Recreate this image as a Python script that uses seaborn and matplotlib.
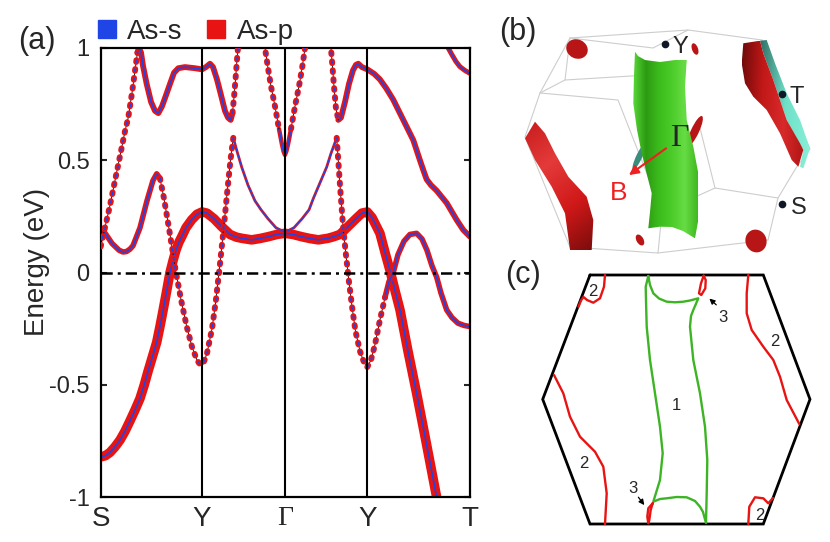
import numpy as np
import matplotlib
matplotlib.use('Agg')
import matplotlib.pyplot as plt
import seaborn as sns
from matplotlib.patches import Polygon, Patch, Ellipse
from matplotlib.colors import LinearSegmentedColormap

sns.set_theme(style='white')
plt.rcParams['font.family'] = ['Liberation Sans', 'DejaVu Sans']

RED = '#e81414'
BLUE = '#1f45e6'

# ---------------- panel (a) data: k-path and bands ----------------
k_ticks = [0.0, 1.0, 1.819, 2.632, 3.646]
k_labels = ['S', 'Y', 'Γ', 'Y', 'T']
e_ticks = [1.0, 0.5, 0.0, -0.5, -1.0]
e_labels = ['1', '0.5', '0', '-0.5', '-1']

# heavy As-p band
fat_k = [0, 0.046, 0.092, 0.14, 0.191, 0.24, 0.289, 0.34, 0.388, 0.43, 0.467, 0.51, 0.553, 0.585, 0.615,
         0.65, 0.684, 0.715, 0.743, 0.772, 0.800, 0.842, 0.898, 0.951, 1.0,
         1.049, 1.119, 1.194, 1.276, 1.340, 1.392, 1.490, 1.572, 1.654, 1.740, 1.819, 1.898, 1.984, 2.066,
         2.148, 2.244, 2.300, 2.362, 2.441, 2.520, 2.579, 2.632, 2.679, 2.718, 2.757, 2.807, 2.856, 2.906,
         2.955, 3.034, 3.119, 3.211, 3.317, 3.330]
fat_e = [-0.82, -0.815, -0.80, -0.776, -0.745, -0.706, -0.66, -0.61, -0.56, -0.50, -0.44, -0.375, -0.31,
         -0.24, -0.17, -0.085, 0.0, 0.055, 0.10, 0.135, 0.16, 0.20, 0.235, 0.26, 0.27,
         0.265, 0.24, 0.205, 0.17, 0.158, 0.153, 0.146, 0.152, 0.16, 0.17, 0.175, 0.17, 0.16, 0.152,
         0.146, 0.153, 0.16, 0.17, 0.205, 0.24, 0.265, 0.27, 0.245, 0.21, 0.175, 0.09, 0.01, -0.08,
         -0.166, -0.35, -0.537, -0.75, -1.0, -1.03]

# band starting at S (0.2 eV)
b1_k = [0, 0.052, 0.112, 0.181, 0.220, 0.255, 0.290, 0.319, 0.388, 0.457, 0.516, 0.553, 0.585]
b1_e = [0.20, 0.17, 0.13, 0.10, 0.092, 0.094, 0.105, 0.12, 0.20, 0.32, 0.41, 0.44, 0.42]
b1d_k = [0.585, 0.625, 0.684, 0.743, 0.793, 0.849, 0.901, 0.951, 1.0]
b1d_e = [0.42, 0.33, 0.17, 0.0, -0.12, -0.24, -0.33, -0.39, -0.42]

# steep band from S up to 1 eV, then the upper band
b2d_k = [0, 0.042, 0.092, 0.141, 0.191, 0.240, 0.272, 0.309, 0.339, 0.363]
b2d_e = [0.116, 0.20, 0.30, 0.41, 0.52, 0.63, 0.69, 0.80, 0.90, 0.98]
b2_k = [0.363, 0.378, 0.398, 0.418, 0.454, 0.497, 0.536, 0.569, 0.605, 0.645, 0.684, 0.724, 0.766, 0.832,
        0.931, 1.0, 1.039, 1.079, 1.109, 1.148, 1.188, 1.227, 1.257, 1.283, 1.301]
b2_e = [0.98, 1.0, 0.98, 0.92, 0.84, 0.76, 0.72, 0.71, 0.74, 0.79, 0.84, 0.89, 0.91, 0.915,
        0.91, 0.905, 0.915, 0.93, 0.915, 0.86, 0.79, 0.72, 0.69, 0.68, 0.71]
b2e_k = [1.301, 1.316, 1.331, 1.346, 1.355, 1.359]
b2e_e = [0.71, 0.78, 0.86, 0.95, 1.0, 1.02]

# parabola at Gamma
g_l_k = [1.617, 1.622, 1.652, 1.681, 1.721, 1.760]
g_l_e = [1.02, 1.0, 0.91, 0.83, 0.74, 0.64]
g_m_k = [1.760, 1.790, 1.805, 1.819, 1.833, 1.849, 1.879]
g_m_e = [0.64, 0.57, 0.54, 0.524, 0.54, 0.57, 0.64]
g_r_k = [1.879, 1.918, 1.958, 1.988, 2.017, 2.022]
g_r_e = [0.64, 0.74, 0.83, 0.91, 1.0, 1.02]

# upper band on the Gamma-Y-T side
b3d_k = [2.268, 2.273, 2.286, 2.303, 2.323, 2.346]
b3d_e = [1.02, 1.0, 0.93, 0.83, 0.73, 0.68]
b3_k = [2.346, 2.372, 2.412, 2.451, 2.490, 2.520, 2.543, 2.579, 2.632, 2.700, 2.757, 2.820, 2.888, 2.987,
        3.086, 3.152, 3.190, 3.218, 3.260, 3.317, 3.416, 3.514, 3.580, 3.646]
b3_e = [0.68, 0.69, 0.76, 0.84, 0.90, 0.925, 0.93, 0.915, 0.905, 0.885, 0.86, 0.82, 0.77, 0.68,
        0.59, 0.50, 0.45, 0.415, 0.39, 0.365, 0.31, 0.235, 0.19, 0.16]

# top right corner band
b4_k = [3.429, 3.431, 3.468, 3.507, 3.546, 3.596, 3.646]
b4_e = [1.02, 1.0, 0.97, 0.94, 0.917, 0.90, 0.887]

# bands from Gamma (0.18 eV) to the 0.6 eV peaks, then down to Y
p_l_k = [1.819, 1.730, 1.652, 1.583, 1.523, 1.454, 1.392, 1.346, 1.309]
p_l_e = [0.18, 0.20, 0.24, 0.28, 0.32, 0.39, 0.47, 0.54, 0.60]
p_ld_k = [1.309, 1.281, 1.247, 1.217, 1.178, 1.138, 1.099, 1.049, 1.0]
p_ld_e = [0.60, 0.50, 0.35, 0.21, 0.04, -0.12, -0.25, -0.36, -0.42]
p_r_k = [1.819, 1.908, 1.988, 2.057, 2.099, 2.165, 2.231, 2.273, 2.330]
p_r_e = [0.18, 0.20, 0.24, 0.28, 0.33, 0.40, 0.47, 0.53, 0.60]
p_rd_k = [2.330, 2.347, 2.367, 2.392, 2.421, 2.451, 2.481, 2.515, 2.560, 2.600, 2.632]
p_rd_e = [0.60, 0.49, 0.36, 0.21, 0.08, -0.04, -0.15, -0.26, -0.35, -0.40, -0.42]

# right arm from Y (-0.42) towards T
y_rd_k = [2.632, 2.668, 2.708, 2.757, 2.807]
y_rd_e = [-0.42, -0.39, -0.32, -0.21, -0.11]
y_r_k = [2.807, 2.846, 2.888, 2.935, 2.994, 3.053, 3.119, 3.172, 3.221, 3.271, 3.317, 3.359, 3.416,
         3.468, 3.527, 3.587, 3.646]
y_r_e = [-0.11, -0.04, 0.0, 0.08, 0.14, 0.17, 0.175, 0.15, 0.10, 0.03, -0.02, -0.09, -0.166,
         -0.20, -0.225, -0.235, -0.24]

# ---------------- panel (b) data (picture coordinates) ----------------
bz_segments = [
    [(570, 38), (688, 30), (762, 40)], [(570, 38), (653, 48), (688, 30)],
    [(762, 40), (810, 149), (796, 168), (778, 198), (768, 240)],
    [(570, 38), (540, 93), (525, 137), (570, 247), (658, 253), (768, 240)],
    [(570, 38), (565, 80), (648, 75)], [(565, 80), (540, 93)],
    [(540, 93), (618, 100), (662, 212), (658, 253)],
    [(662, 212), (715, 188), (778, 198)], [(715, 188), (700, 128)],
]
green_b_x = [635, 634, 633.3, 637, 641.7, 647, 651.7, 650, 648.3, 660, 672, 683, 695, 698.3, 698.3, 698.3,
             693.3, 686.7, 685, 686.7, 675, 660, 645, 638]
green_b_y = [51.7, 75, 103.3, 130, 153.3, 175, 193.3, 212, 228.3, 226.7, 227, 231, 238.3, 220, 206.7, 173.3,
             146.7, 120, 86.7, 60, 60, 62, 60, 56]
redL_x = [535, 525, 535, 551.7, 565, 568, 570, 591.7, 593.3, 586.7, 568.3, 555, 545]
redL_y = [121.7, 138.3, 160, 186.7, 213.3, 235, 250, 250, 220, 196.7, 176.7, 153.3, 133.3]
redR_x = [743.3, 760, 763.3, 773.3, 780, 786.7, 800, 803.3, 798.3, 791.7, 780, 766.7, 753.3, 745, 741.7]
redR_y = [43.3, 40.7, 53.3, 80, 100, 120, 143.3, 150, 166.7, 160, 133.3, 110, 96.7, 83.3, 63.3]
teal_x = [760, 766.7, 775, 786.7, 800, 810, 803.3, 800, 803.3, 786.7, 773.3, 763.3]
teal_y = [40.7, 40, 63.3, 93.3, 120, 148.3, 168.3, 166.7, 150, 120, 80, 53.3]
# small pockets: (x, y, width, height, angle, colour)
pockets = [(577, 49, 22, 19, 25, 'r'), (695, 49, 6, 12, -20, 'r'), (695, 131, 8, 33, 25, 'r'),
           (639, 157, 6, 28, 25, 't'), (640, 240, 7, 12, -30, 'r'), (756, 241, 21, 23, -20, 'r')]
kpoints_b = [(665, 44, 'Y', 680, 46.7), (781.7, 94.3, 'T', 796.7, 96.7), (781.7, 204, 'S', 798.3, 208.3)]

# ---------------- panel (c) data (picture coordinates) ----------------
hex_x = [590, 763.3, 810, 763.3, 590, 542.7, 590]
hex_y = [275, 275, 399.3, 524, 524, 399.3, 275]
green_c_x = [648.3, 645.7, 646, 646.7, 650, 655, 660, 662.7, 660, 653.3, 660, 666.7, 676.7, 686.7, 695, 700,
             703, 706, 706.7, 707.3, 705, 700, 693.3, 690, 691, 693.3, 698.3, 690, 683.3, 675, 666.7, 659,
             653.3, 650, 648.3]
green_c_y = [276, 286.7, 300, 326.7, 360, 393.3, 426.7, 453.3, 480, 501.7, 499, 498.3, 497, 497.3, 501, 506.7,
             512, 523, 493.3, 460, 426.7, 393.3, 360, 326.7, 316, 310, 298.3, 300.5, 301.7, 302.3, 301.7, 298.5,
             293.3, 285, 276]
loop3_top_x = [703.7, 705.7, 705.3, 701.3, 699, 701, 703.7]
loop3_top_y = [275.7, 280, 288.3, 295, 293.3, 283.3, 275.7]
loop3_bot_x = [652.7, 650.7, 649.3, 648.3, 647.3, 648.3, 652.7]
loop3_bot_y = [503.3, 510, 520, 523.3, 516.7, 508.3, 503.3]
red2_tl_x = [605, 604, 600, 593.3, 587, 583.5, 581, 578.5]
red2_tl_y = [275, 286.7, 298.3, 302.7, 300, 297, 300.5, 306.7]
red2_r_x = [748.3, 746.7, 746.7, 751.7, 763.3, 773.3, 780, 786.7, 799.3]
red2_r_y = [275, 293.3, 313.3, 330, 346.7, 360, 376.7, 400, 424]
red2_l_x = [554, 563.3, 570, 580, 595, 603.3, 606.7, 605]
red2_l_y = [375, 393.3, 416.7, 436.7, 451.7, 466.7, 493.3, 524]
red2_br_x = [748.3, 749.3, 755, 763.3, 768.3, 773]
red2_br_y = [524, 506.7, 497.3, 498.3, 503.3, 498]
labels_c = [('1', 676.7, 405), ('2', 593.3, 291.7), ('2', 775, 341.7), ('2', 584, 464), ('2', 760, 515),
            ('3', 722.7, 317.3), ('3', 633.3, 488.3)]

# =================================================================
fig = plt.figure(figsize=(8.3, 5.42), dpi=100)
ax = fig.add_axes([100.7 / 830, 1 - 497.3 / 542, 369.3 / 830, 449.3 / 542])


def fat(k, e, w, wb=1.1, z=2):
    sns.lineplot(x=k, y=e, ax=ax, sort=False, estimator=None, color=RED, linewidth=w,
                 solid_capstyle='round', solid_joinstyle='round', zorder=z)
    sns.lineplot(x=k, y=e, ax=ax, sort=False, estimator=None, color=BLUE, linewidth=wb,
                 solid_capstyle='round', solid_joinstyle='round', zorder=z + 0.1)


def dotted(k, e, w=4.3, z=2.5):
    ax.plot(k, e, color='black', lw=0.6, zorder=z)
    ax.plot(k, e, color=RED, lw=w, linestyle=(0, (0.3, 1.2)), dash_capstyle='round', zorder=z + 0.05)
    on = 0.3 * w / 1.5
    ax.plot(k, e, color=BLUE, lw=1.5, linestyle=(0, (on, 1.5 * w / 1.5 - on)), dash_capstyle='round',
            zorder=z + 0.1)


fat(fat_k, fat_e, 6.9, 1.2, z=2)
fat(b1_k, b1_e, 4.0, 1.3, z=2.2)
dotted(b1d_k, b1d_e)
dotted(b2d_k, b2d_e)
fat(b2_k, b2_e, 4.2, 1.3, z=2.2)
dotted(b2e_k, b2e_e)
dotted(g_l_k, g_l_e)
fat(g_m_k, g_m_e, 3.2, 1.2, z=2.2)
dotted(g_r_k, g_r_e)
dotted(b3d_k, b3d_e)
fat(b3_k, b3_e, 4.2, 1.3, z=2.2)
fat(b4_k, b4_e, 3.6, 1.2, z=2.2)
fat(p_l_k, p_l_e, 2.0, 0.9, z=2.3)
dotted(p_ld_k, p_ld_e)
fat(p_r_k, p_r_e, 2.0, 0.9, z=2.3)
dotted(p_rd_k, p_rd_e)
dotted(y_rd_k, y_rd_e)
fat(y_r_k, y_r_e, 4.0, 1.3, z=2.2)

for kv in k_ticks[1:-1]:
    ax.axvline(kv, color='black', lw=1.5, zorder=6)
ax.axhline(0, color='black', lw=1.8, linestyle=(0, (4.5, 2.0, 1.2, 2.0)), zorder=6)

ax.set_xlim(k_ticks[0], k_ticks[-1])
ax.set_ylim(-1, 1)
ax.set_xticks(k_ticks)
ax.set_xticklabels(k_labels, fontsize=20)
ax.get_xticklabels()[2].set_fontfamily('Liberation Serif')
ax.set_yticks(e_ticks)
ax.set_yticklabels(e_labels, fontsize=17)
ax.tick_params(axis='x', length=0, pad=6)
ax.tick_params(axis='y', direction='in', length=4, width=1.5, left=True, right=True, pad=8)
ax.set_xlabel('')
ax.set_ylabel('Energy (eV)', fontsize=20)
ax.yaxis.set_label_coords(-0.137, 0.523)
for s in ax.spines.values():
    s.set_color('black')
    s.set_linewidth(1.6)
    s.set_visible(True)
ax.grid(False)

fig.legend(handles=[Patch(color=BLUE, label='As-s'), Patch(color=RED, label='As-p')],
           loc='upper left', bbox_to_anchor=(81 / 830, 1 - 2 / 542), ncol=2, frameon=False, fontsize=20,
           handlelength=0.65, handleheight=0.65, handletextpad=0.4, columnspacing=0.9, borderpad=0.1)
fig.text(37 / 830, 1 - 41 / 542, '(a)', fontsize=22, ha='center', va='center')

# ---------------- panels (b) and (c) ----------------
axr = fig.add_axes([480 / 830, 0, 350 / 830, 1])
axr.axis('off')


def shaded(xs, ys, cols, wx=1.0, wy=0.0, z=3):
    poly = Polygon(np.column_stack([xs, ys]), closed=True, facecolor='none', edgecolor='none')
    axr.add_patch(poly)
    x0, x1, y0, y1 = min(xs), max(xs), min(ys), max(ys)
    X, Y = np.meshgrid(np.linspace(0, 1, 200), np.linspace(0, 1, 200))
    g = wx * X + wy * Y
    g = (g - g.min()) / (g.max() - g.min())
    cmap = LinearSegmentedColormap.from_list('sh', cols)
    im = axr.imshow(g, cmap=cmap, extent=(x0, x1, y1, y0), aspect='auto', zorder=z,
                    interpolation='bilinear', origin='upper')
    im.set_clip_path(poly)


# Brillouin-zone wireframe
for seg in bz_segments:
    xs, ys = zip(*seg)
    axr.plot(xs, ys, color='#cdcdcd', lw=0.8, zorder=2)

shaded(redL_x, redL_y, ['#c81c1c', '#e43a3a', '#d01818', '#7a0c0c'], wx=0.4, wy=1.0, z=3)
shaded(teal_x, teal_y, ['#2f6e64', '#6fe0c8', '#8cf0d8'], wx=1.0, wy=0.2, z=3)
shaded(redR_x, redR_y, ['#6e0a0a', '#c21818', '#d82a2a', '#b01414'], wx=1.0, wy=0.1, z=3.1)
for (cx, cy, w, h, ang, c) in pockets:
    col = '#b81616' if c == 'r' else '#3a8c7c'
    axr.add_patch(Ellipse((cx, cy), w, h, angle=ang, facecolor=col, edgecolor='none', zorder=3))
shaded(green_b_x, green_b_y, ['#58d838', '#2c9a12', '#3cbc1c', '#4ccc2a', '#66dc44', '#40b820'],
       wx=1.0, wy=0.0, z=4)

for (dx, dy, t, tx, ty) in kpoints_b:
    axr.plot([dx], [dy], 'o', color='#101828', ms=4.5, zorder=6)
    axr.text(tx, ty, t, fontsize=17, ha='center', va='center', zorder=6)
axr.text(679, 139, 'Γ', fontsize=23, family='Liberation Serif', ha='center', va='center', zorder=6)
axr.annotate('', xy=(626.7, 176.7), xytext=(668.3, 146.7),
             arrowprops=dict(arrowstyle='-|>', color='#ee2020', lw=1.5, mutation_scale=14), zorder=6)
axr.text(618.3, 193.3, 'B', fontsize=19, color='#ee2020', ha='center', va='center', zorder=6)
axr.text(518.3, 31.7, '(b)', fontsize=22, ha='center', va='center')

# panel (c)
axr.plot(hex_x, hex_y, color='black', lw=2.0, zorder=3, solid_joinstyle='miter')
sns.lineplot(x=green_c_x, y=green_c_y, ax=axr, sort=False, estimator=None, color='#3cb424', lw=1.7, zorder=4)
for xs, ys in [(loop3_top_x, loop3_top_y), (loop3_bot_x, loop3_bot_y), (red2_tl_x, red2_tl_y),
               (red2_r_x, red2_r_y), (red2_l_x, red2_l_y), (red2_br_x, red2_br_y)]:
    sns.lineplot(x=xs, y=ys, ax=axr, sort=False, estimator=None, color='#e81414', lw=1.7, zorder=5)
for (t, tx, ty) in labels_c:
    axr.text(tx, ty, t, fontsize=12, ha='center', va='center', zorder=6)
axr.annotate('', xy=(707.3, 296.7), xytext=(718.3, 306.7),
             arrowprops=dict(arrowstyle='-|>', color='black', lw=0.9, mutation_scale=8), zorder=6)
axr.annotate('', xy=(646, 507.3), xytext=(636.7, 495),
             arrowprops=dict(arrowstyle='-|>', color='black', lw=0.9, mutation_scale=8), zorder=6)
axr.text(523.3, 275, '(c)', fontsize=22, ha='center', va='center')

axr.set_xlim(480, 830)
axr.set_ylim(542, 0)
axr.set_xlabel('')
axr.set_ylabel('')

fig.savefig('out.png', dpi=100)
